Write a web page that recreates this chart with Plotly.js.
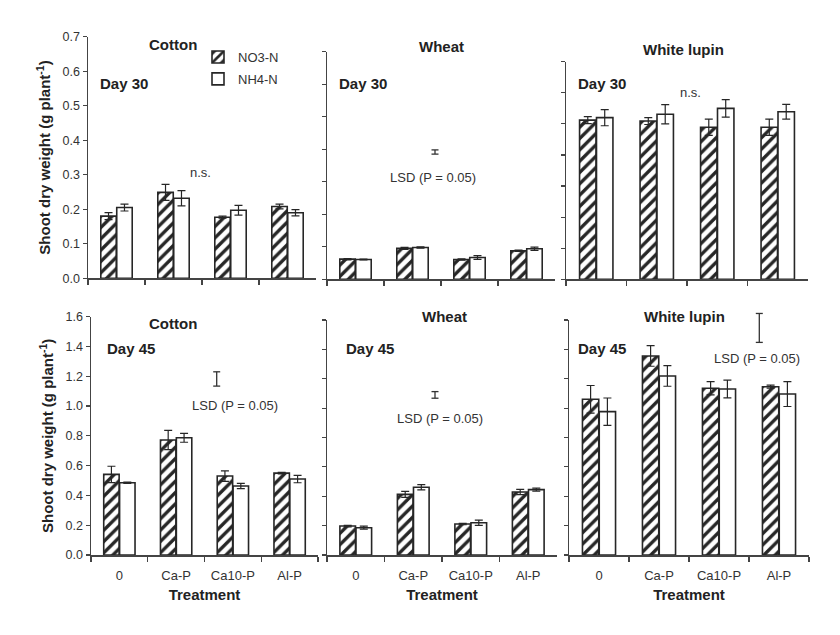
<!DOCTYPE html>
<html>
<head>
<meta charset="utf-8">
<script src="https://cdn.plot.ly/plotly-3.0.1.min.js"></script>
<style>
  html, body { margin: 0; padding: 0; background: #ffffff; }
  #chart { width: 840px; height: 635px; }
</style>
</head>
<body>
<div id="chart"></div>
<script>
// ---------------- DATA ----------------
const categories = ['0', 'Ca-P', 'Ca10-P', 'Al-P'];
const seriesNames = ['NO3-N', 'NH4-N'];

// Day 30 shoot dry weight (g plant-1)
const cotton30_NO3 = [0.180, 0.249, 0.177, 0.208];
const cotton30_NO3_err = [0.010, 0.023, 0.003, 0.007];
const cotton30_NH4 = [0.205, 0.232, 0.197, 0.190];
const cotton30_NH4_err = [0.010, 0.022, 0.014, 0.009];

const wheat30_NO3 = [0.062, 0.095, 0.061, 0.088];
const wheat30_NO3_err = [0.002, 0.003, 0.002, 0.002];
const wheat30_NH4 = [0.061, 0.098, 0.067, 0.094];
const wheat30_NH4_err = [0.001, 0.002, 0.006, 0.005];

const lupin30_NO3 = [0.512, 0.509, 0.489, 0.489];
const lupin30_NO3_err = [0.011, 0.011, 0.026, 0.026];
const lupin30_NH4 = [0.520, 0.531, 0.550, 0.539];
const lupin30_NH4_err = [0.026, 0.031, 0.028, 0.024];

// Day 45 shoot dry weight (g plant-1)
const cotton45_NO3 = [0.541, 0.772, 0.530, 0.550];
const cotton45_NO3_err = [0.055, 0.065, 0.035, 0.005];
const cotton45_NH4 = [0.485, 0.787, 0.463, 0.510];
const cotton45_NH4_err = [0.004, 0.030, 0.018, 0.025];

const wheat45_NO3 = [0.197, 0.413, 0.211, 0.429];
const wheat45_NO3_err = [0.005, 0.020, 0.005, 0.018];
const wheat45_NH4 = [0.186, 0.461, 0.220, 0.445];
const wheat45_NH4_err = [0.010, 0.018, 0.018, 0.010];

const lupin45_NO3 = [1.060, 1.355, 1.135, 1.146];
const lupin45_NO3_err = [0.094, 0.070, 0.045, 0.010];
const lupin45_NH4 = [0.976, 1.219, 1.130, 1.096];
const lupin45_NH4_err = [0.093, 0.070, 0.060, 0.085];

// LSD (P = 0.05) bars: centre value and half-length
const lsdPanels = ['wheat30', 'cotton45', 'wheat45', 'lupin45'];
const lsdCentre = [0.3915, 1.182, 1.090, 1.546];
const lsdHalf = [0.0065, 0.048, 0.0225, 0.0985];

// ---------------- LAYOUT HELPERS ----------------
const W = 840, H = 635;
const px = x => x / W;
const py = y => 1 - y / H;

// panel boxes in pixels: [left, right, bottom(zero), top]
const panels = {
  cotton30: {ax: '',  box: [88, 316, 278.3, 36.7],  top: 0.7, dtick: 0.1, labels: false, ytick: true},
  wheat30:  {ax: '2', box: [327, 555, 279.3, 51.7], top: 0.7, dtick: 0.1, labels: false, ytick: false},
  lupin30:  {ax: '3', box: [566, 808, 279.3, 61.7], top: 0.7, dtick: 0.1, labels: false, ytick: false},
  cotton45: {ax: '4', box: [91, 318, 555, 316.7],   top: 1.6, dtick: 0.2, labels: true,  ytick: true},
  wheat45:  {ax: '5', box: [327, 557, 555, 320],    top: 1.6, dtick: 0.2, labels: true,  ytick: false},
  lupin45:  {ax: '6', box: [569, 809, 555, 320],    top: 1.6, dtick: 0.2, labels: true,  ytick: false}
};

const seriesData = {
  cotton30: [[cotton30_NO3, cotton30_NO3_err], [cotton30_NH4, cotton30_NH4_err]],
  wheat30:  [[wheat30_NO3, wheat30_NO3_err],   [wheat30_NH4, wheat30_NH4_err]],
  lupin30:  [[lupin30_NO3, lupin30_NO3_err],   [lupin30_NH4, lupin30_NH4_err]],
  cotton45: [[cotton45_NO3, cotton45_NO3_err], [cotton45_NH4, cotton45_NH4_err]],
  wheat45:  [[wheat45_NO3, wheat45_NO3_err],   [wheat45_NH4, wheat45_NH4_err]],
  lupin45:  [[lupin45_NO3, lupin45_NO3_err],   [lupin45_NH4, lupin45_NH4_err]]
};

const INK = '#262626';
const AXIS = '#444444';
const TEXT = '#333333';
const FONT = 'Liberation Sans, Arial, sans-serif';

const traces = [];
const layout = {
  width: W, height: H,
  margin: {l: 0, r: 0, t: 0, b: 0},
  paper_bgcolor: '#ffffff',
  plot_bgcolor: 'rgba(0,0,0,0)',
  barmode: 'group',
  bargap: 0.44,
  bargroupgap: 0.03,
  font: {family: FONT, color: TEXT, size: 13},
  showlegend: true,
  legend: {
    x: px(198), y: py(42), xanchor: 'left', yanchor: 'top',
    bgcolor: 'rgba(0,0,0,0)', borderwidth: 0,
    font: {family: FONT, size: 13, color: TEXT},
    tracegroupgap: 2
  },
  annotations: [],
  shapes: []
};

let first = true;
Object.keys(panels).forEach(key => {
  const p = panels[key];
  const [l, r, b, t] = p.box;
  const xa = 'x' + p.ax, ya = 'y' + p.ax;
  seriesData[key].forEach((s, i) => {
    const hatched = i === 0;
    traces.push({
      type: 'bar',
      name: seriesNames[i],
      legendgroup: seriesNames[i],
      showlegend: first,
      x: categories,
      y: s[0],
      xaxis: xa, yaxis: ya,
      marker: {
        color: '#ffffff',
        line: {color: INK, width: 1.6},
        pattern: hatched ? {shape: '/', fgcolor: INK, bgcolor: '#ffffff', size: 8, solidity: 0.42} : {shape: ''}
      },
      error_y: {type: 'data', array: s[1], visible: true, color: INK, thickness: 1.2, width: 4}
    });
  });
  first = false;

  const xName = 'xaxis' + p.ax, yName = 'yaxis' + p.ax;
  layout[xName] = {
    domain: [px(l), px(r)],
    anchor: ya,
    type: 'category',
    tickson: 'boundaries',
    ticks: 'outside', ticklen: 5, tickwidth: 1.2, tickcolor: AXIS,
    showline: true, linecolor: AXIS, linewidth: 1.5,
    showgrid: false, zeroline: false,
    showticklabels: p.labels,
    ticklabelstandoff: 8,
    tickfont: {family: FONT, size: 13, color: TEXT},
    fixedrange: true
  };
  if (p.labels) {
    layout[xName].title = {text: 'Treatment', font: {family: FONT, size: 15, color: '#222', weight: 'bold'}, standoff: 7};
  }
  layout[yName] = {
    domain: [py(b), py(t)],
    anchor: xa,
    range: [0, p.top],
    dtick: p.dtick, tick0: 0,
    tickformat: '.1f',
    ticks: 'outside', ticklen: 4, tickwidth: 1.2, tickcolor: AXIS,
    showline: true, linecolor: AXIS, linewidth: 1.5,
    showgrid: false, zeroline: false,
    showticklabels: p.ytick,
    tickfont: {family: FONT, size: 12.5, color: TEXT},
    fixedrange: true
  };
  if (p.ytick) {
    layout[yName].title = {text: 'Shoot dry weight (g plant<sup>-1</sup>)', font: {family: FONT, size: 15, color: '#222', weight: 'bold'}, standoff: 8};
  }
});

// LSD bars: x by panel-domain fraction, y converted through the panel's axis range (domain units, so not clipped)
const lsdXpx = {wheat30: 435, cotton45: 216.7, wheat45: 435, lupin45: 759.3};
lsdPanels.forEach((key, i) => {
  const p = panels[key];
  const [l, r] = p.box;
  const fx = (lsdXpx[key] - l) / (r - l);
  const cap = 3.5 / (r - l);
  const xref = 'x' + p.ax + ' domain';
  const yref = 'y' + p.ax + ' domain';
  const lo = (lsdCentre[i] - lsdHalf[i]) / p.top;
  const hi = (lsdCentre[i] + lsdHalf[i]) / p.top;
  const ln = {color: '#333', width: 1.3};
  layout.shapes.push({type: 'line', xref, yref, x0: fx, x1: fx, y0: lo, y1: hi, line: ln});
  layout.shapes.push({type: 'line', xref, yref, x0: fx - cap, x1: fx + cap, y0: lo, y1: lo, line: ln});
  layout.shapes.push({type: 'line', xref, yref, x0: fx - cap, x1: fx + cap, y0: hi, y1: hi, line: ln});
});

// Text annotations
function ann(text, x, y, opts) {
  layout.annotations.push(Object.assign({
    text, x: px(x), y: py(y), xref: 'paper', yref: 'paper',
    xanchor: 'center', yanchor: 'middle', showarrow: false,
    font: {family: FONT, size: 13, color: TEXT}
  }, opts || {}));
}
const bold = {font: {family: FONT, size: 15, color: '#222', weight: 'bold'}};
ann('Cotton', 173, 44, bold);
ann('Wheat', 441, 47, bold);
ann('White lupin', 683, 50, bold);
ann('Cotton', 173, 323, bold);
ann('Wheat', 444, 316, bold);
ann('White lupin', 684, 316, bold);
ann('Day 30', 124, 83, bold);
ann('Day 30', 363, 83, bold);
ann('Day 30', 602, 83, bold);
ann('Day 45', 131, 348, bold);
ann('Day 45', 370, 348, bold);
ann('Day 45', 602, 348, bold);
ann('n.s.', 200, 172);
ann('n.s.', 690, 93);
ann('LSD (P = 0.05)', 433, 177);
ann('LSD (P = 0.05)', 235, 405);
ann('LSD (P = 0.05)', 440, 418);
ann('LSD (P = 0.05)', 757, 359);

Plotly.newPlot('chart', traces, layout, {displayModeBar: false, staticPlot: true});
</script>
</body>
</html>
